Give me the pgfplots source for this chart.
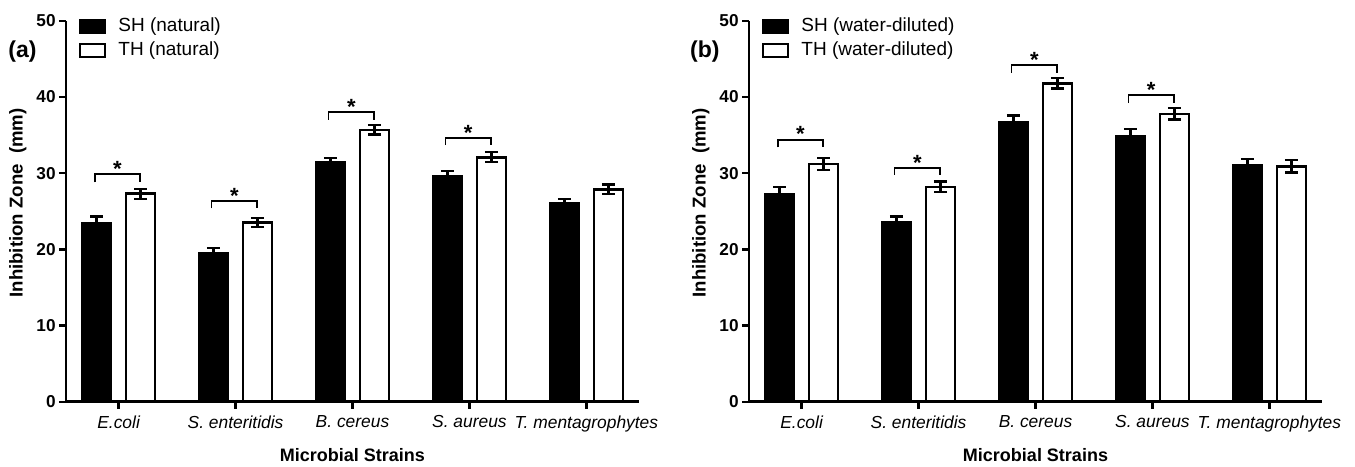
\documentclass[border=0pt]{standalone}
\usepackage{fontspec}
\setmainfont{Liberation Sans}
\usepackage{pgfplots}
\pgfplotsset{compat=1.18}
\usepackage{pgfplotstable}

% x  SH  SHerr  TH  THerr
\pgfplotstableread{
x sh she th the
0 23.5 0.8 27.3 0.65
1 19.5 0.7 23.5 0.6
2 31.4 0.6 35.7 0.6
3 29.6 0.7 32.1 0.65
4 26.1 0.5 27.9 0.6
}\natural

\pgfplotstableread{
x sh she th the
0 27.3 0.9 31.2 0.8
1 23.6 0.7 28.2 0.7
2 36.7 0.9 41.8 0.7
3 34.8 1.0 37.8 0.75
4 31.0 0.9 30.9 0.8
}\diluted

\tikzset{sigstar/.style={anchor=base, font=\fontsize{11}{13}\selectfont\bfseries}}

\pgfplotsset{
  panel/.style={
    scale only axis, width=286.5pt, height=190.4pt,
    xmin=-0.45, xmax=4.45, ymin=0, ymax=50,
    axis x line*=bottom, axis y line*=left,
    axis line style={line width=1.3pt},
    every tick/.style={black, line width=1.2pt},
    tick align=outside, major tick length=3.5pt,
    ytick={0,10,...,50}, xtick={0,...,4},
    xticklabels={E.coli, S. enteritidis, B. cereus, S. aureus, T. mentagrophytes},
    x tick label style={font=\fontsize{8.7}{10}\selectfont\itshape},
    y tick label style={font=\fontsize{8.6}{10}\selectfont\bfseries, inner sep=1.5pt},
    /pgf/number format/assume math mode=true,
    xlabel={Microbial Strains},
    xlabel style={font=\fontsize{9}{11}\selectfont\bfseries, at={(axis description cs:0.5,-0.14)}, anchor=center},
    ylabel={Inhibition Zone\ \ (mm)},
    ylabel style={font=\fontsize{9.3}{11}\selectfont\bfseries, at={(axis description cs:-0.084,0.522)}, anchor=center},
    bar width=14.5pt,
    clip=false,
    legend image code/.code={\draw[#1, line width=1.2pt] (0pt,-3.3pt) rectangle (12.5pt,3.3pt);},
    legend style={draw=none, fill=none, inner sep=0pt, outer sep=0pt,
      at={(axis description cs:0.0227,1.017)}, anchor=north west,
      font=\fontsize{9.5}{11}\selectfont,
      nodes={inner sep=1.5pt, text height=7pt, text depth=2pt},
      /tikz/every odd column/.append style={column sep=4.5pt}},
    legend cell align=left,
  },
  errs/.style={error bars/.cd, y dir=both, y explicit,
    error bar style={line width=1.2pt, black},
    error mark options={rotate=90, mark size=3.3pt, line width=1.2pt, black}},
  shbar/.style={ybar, bar shift=0pt, fill=black, draw=black, line width=1.2pt, errs},
  thbar/.style={ybar, bar shift=0pt, fill=white, draw=black, line width=1.3pt, errs},
  bracket/.style={sharp plot, black, line width=0.9pt, forget plot},
}

\begin{document}
\begin{tikzpicture}
\useasboundingbox (-33pt,-32.15pt) rectangle (644.5pt,200.85pt);

% (a) natural
\begin{axis}[panel, at={(0pt,0pt)}, anchor=south west]
\addplot[shbar] table[x expr=\thisrow{x}-0.188, y=sh, y error=she] {\natural};
\addplot[thbar] table[x expr=\thisrow{x}+0.188, y=th, y error=the] {\natural};
\legend{SH (natural), TH (natural)}
\addplot[bracket] coordinates {(-0.205,28.8) (-0.205,29.9) (0.185,29.9) (0.185,28.8)};
\addplot[bracket] coordinates {(0.795,25.4) (0.795,26.3) (1.185,26.3) (1.185,25.4)};
\addplot[bracket] coordinates {(1.795,37.0) (1.795,38.0) (2.185,38.0) (2.185,37.0)};
\addplot[bracket] coordinates {(2.795,33.7) (2.795,34.6) (3.185,34.6) (3.185,33.7)};
\node[sigstar] at (axis cs:-0.01,29.6) {*};
\node[sigstar] at (axis cs:0.99,26.0) {*};
\node[sigstar] at (axis cs:1.99,37.7) {*};
\node[sigstar] at (axis cs:2.99,34.3) {*};
\node[font=\fontsize{11.5}{13}\selectfont\bfseries] at (rel axis cs:-0.076,0.919) {(a)};
\end{axis}

% (b) water-diluted
\begin{axis}[panel, at={(341.5pt,0pt)}, anchor=south west]
\addplot[shbar] table[x expr=\thisrow{x}-0.188, y=sh, y error=she] {\diluted};
\addplot[thbar] table[x expr=\thisrow{x}+0.188, y=th, y error=the] {\diluted};
\legend{SH (water-diluted), TH (water-diluted)}
\addplot[bracket] coordinates {(-0.205,33.4) (-0.205,34.4) (0.185,34.4) (0.185,33.4)};
\addplot[bracket] coordinates {(0.795,29.8) (0.795,30.7) (1.185,30.7) (1.185,29.8)};
\addplot[bracket] coordinates {(1.795,43.2) (1.795,44.2) (2.185,44.2) (2.185,43.2)};
\addplot[bracket] coordinates {(2.795,39.2) (2.795,40.3) (3.185,40.3) (3.185,39.2)};
\node[sigstar] at (axis cs:-0.01,34.1) {*};
\node[sigstar] at (axis cs:0.99,30.4) {*};
\node[sigstar] at (axis cs:1.99,43.9) {*};
\node[sigstar] at (axis cs:2.99,40.0) {*};
\node[font=\fontsize{11.5}{13}\selectfont\bfseries] at (rel axis cs:-0.077,0.919) {(b)};
\end{axis}
\end{tikzpicture}
\end{document}
